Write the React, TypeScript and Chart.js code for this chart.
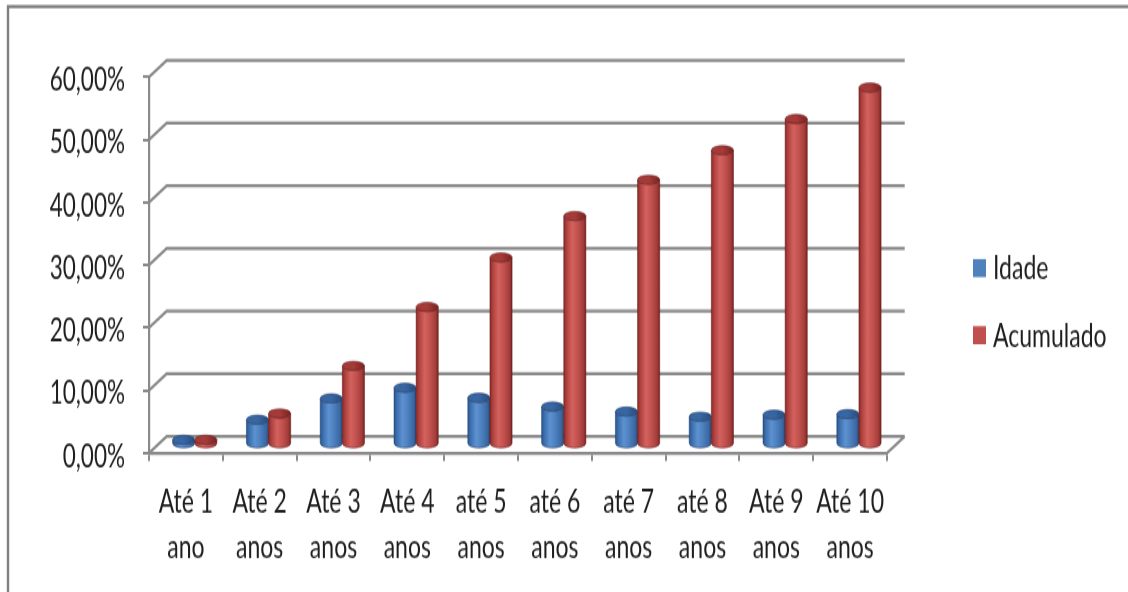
import { useEffect, useRef } from "react";
import { Chart, registerables } from "chart.js";

Chart.register(...registerables);

// Category labels (two lines each)
const categories: string[][] = [
  ["Até 1", "ano"],
  ["Até 2", "anos"],
  ["Até 3", "anos"],
  ["Até 4", "anos"],
  ["até 5", "anos"],
  ["até 6", "anos"],
  ["até 7", "anos"],
  ["até 8", "anos"],
  ["Até 9", "anos"],
  ["Até 10", "anos"],
];

// Series values, in percent
const idade = [0.8, 4.0, 7.4, 9.1, 7.5, 6.1, 5.3, 4.5, 4.8, 4.9];
const acumulado = [0.8, 5.0, 12.6, 22.0, 29.9, 36.5, 42.3, 47.0, 52.0, 57.0];

const seriesNames = ["Idade", "Acumulado"];
const seriesColors = ["#4F81BD", "#C0504D"];

// Value axis
const yMin = 0;
const yMax = 60;
const yStep = 10;

// The drawing surface is rendered shorter and displayed taller,
// which gives the tall, narrow lettering of the original sheet.
const VIEW_W = 1128;
const VIEW_H = 592;
const DRAW_H = 418;
const K = VIEW_H / DRAW_H;

const FONT = 'Lato, "Open Sans", "Liberation Sans", sans-serif';
const TEXT = "#1e1e1e";
const GRID = "#8a8a8a";

// depth of the 3-D box (back wall offset)
const DEPTH_X = 17.7;
const DEPTH_Y = 16.7 / K;

const shades: Record<string, { body: [number, string][]; top: string; edge: string }> = {
  "#4F81BD": {
    body: [
      [0, "#2a5590"],
      [0.12, "#3b6eac"],
      [0.38, "#5e91cf"],
      [0.62, "#4d80bf"],
      [0.88, "#3a68a2"],
      [1, "#284c80"],
    ],
    top: "#3866a3",
    edge: "rgba(30,60,100,0.5)",
  },
  "#C0504D": {
    body: [
      [0, "#8a2927"],
      [0.12, "#ad403d"],
      [0.38, "#d4625e"],
      [0.62, "#c2524f"],
      [0.88, "#a33d3a"],
      [1, "#7c2321"],
    ],
    top: "#a53b39",
    edge: "rgba(100,25,25,0.5)",
  },
};

const framePlugin = {
  id: "frame",
  beforeDraw(chart: any) {
    const ctx = chart.ctx as CanvasRenderingContext2D;
    ctx.save();
    ctx.fillStyle = "#ffffff";
    ctx.fillRect(0, 0, chart.width, chart.height);
    ctx.strokeStyle = "#7f7f7f";
    ctx.lineWidth = 2.4;
    ctx.beginPath();
    ctx.moveTo(6.8, 4.6);
    ctx.lineTo(chart.width, 4.6);
    ctx.moveTo(8, 3.4);
    ctx.lineTo(8, chart.height);
    ctx.stroke();
    ctx.restore();
  },
};

const wallsPlugin = {
  id: "walls3d",
  beforeDatasetsDraw(chart: any) {
    const ctx = chart.ctx as CanvasRenderingContext2D;
    const { left, right, bottom } = chart.chartArea;
    const y = chart.scales.y;
    ctx.save();
    ctx.strokeStyle = GRID;
    ctx.lineWidth = 2.2;
    ctx.lineCap = "butt";
    ctx.lineJoin = "miter";
    ctx.beginPath();
    for (const t of y.ticks) {
      const py = y.getPixelForValue(t.value);
      // side wall diagonal + back wall line
      ctx.moveTo(left, py);
      ctx.lineTo(left + DEPTH_X, py - DEPTH_Y);
      ctx.lineTo(right + DEPTH_X, py - DEPTH_Y);
    }
    // right edge of floor
    ctx.moveTo(right, bottom);
    ctx.lineTo(right + DEPTH_X, bottom - DEPTH_Y);
    ctx.stroke();
    ctx.restore();
  },
};

function drawCylinder(
  ctx: CanvasRenderingContext2D,
  cx: number,
  yTop: number,
  yBot: number,
  rx: number,
  ry: number,
  color: string
) {
  const s = shades[color];
  const g = ctx.createLinearGradient(cx - rx, 0, cx + rx, 0);
  for (const [o, c] of s.body) g.addColorStop(o, c);
  ctx.beginPath();
  ctx.moveTo(cx - rx, yTop);
  ctx.lineTo(cx - rx, yBot);
  ctx.ellipse(cx, yBot, rx, ry, 0, Math.PI, 0, true);
  ctx.lineTo(cx + rx, yTop);
  ctx.ellipse(cx, yTop, rx, ry, 0, 0, Math.PI, false);
  ctx.closePath();
  ctx.fillStyle = g;
  ctx.fill();
  ctx.strokeStyle = s.edge;
  ctx.lineWidth = 1;
  ctx.stroke();
  // top cap
  const tg = ctx.createLinearGradient(cx - rx, 0, cx + rx, 0);
  tg.addColorStop(0, s.top);
  tg.addColorStop(0.5, s.top);
  tg.addColorStop(1, s.body[5][1]);
  ctx.beginPath();
  ctx.ellipse(cx, yTop, rx, ry, 0, 0, Math.PI * 2);
  ctx.fillStyle = tg;
  ctx.fill();
  ctx.strokeStyle = s.edge;
  ctx.stroke();
}

const cylinderPlugin = {
  id: "cylinders",
  afterDatasetsDraw(chart: any) {
    const ctx = chart.ctx as CanvasRenderingContext2D;
    ctx.save();
    chart.data.datasets.forEach((ds: any, di: number) => {
      const meta = chart.getDatasetMeta(di);
      meta.data.forEach((el: any) => {
        const rx = el.width / 2;
        const cx = el.x + DEPTH_X / 2;
        const yTop = el.y - DEPTH_Y / 2;
        const yBot = el.base - DEPTH_Y / 2;
        drawCylinder(ctx, cx, yTop, yBot, rx, 3.2, ds.cylColor);
      });
    });
    ctx.restore();
  },
};

const legendPlugin = {
  id: "sideLegend",
  afterDraw(chart: any) {
    const ctx = chart.ctx as CanvasRenderingContext2D;
    ctx.save();
    ctx.font = `23px ${FONT}`;
    ctx.textBaseline = "middle";
    ctx.textAlign = "left";
    chart.data.datasets.forEach((ds: any, i: number) => {
      const cy = 189.2 + i * 47.4;
      ctx.fillStyle = ds.cylColor;
      ctx.fillRect(973, cy - 6.3, 13, 12.7);
      ctx.fillStyle = TEXT;
      ctx.fillText(ds.label, 993, cy + 0.5);
    });
    ctx.restore();
  },
};

export default function App() {
  const ref = useRef<HTMLCanvasElement | null>(null);

  useEffect(() => {
    document.body.style.margin = "0";
    const canvas = ref.current;
    if (!canvas) return;
    const chart = new Chart(canvas, {
      type: "bar",
      data: {
        labels: categories,
        datasets: [
          {
            label: seriesNames[0],
            data: idade,
            backgroundColor: "rgba(0,0,0,0)",
            borderWidth: 0,
            categoryPercentage: 0.6,
            barPercentage: 1,
            cylColor: seriesColors[0],
          } as any,
          {
            label: seriesNames[1],
            data: acumulado,
            backgroundColor: "rgba(0,0,0,0)",
            borderWidth: 0,
            categoryPercentage: 0.6,
            barPercentage: 1,
            cylColor: seriesColors[1],
          } as any,
        ],
      },
      options: {
        responsive: false,
        animation: false,
        events: [],
        layout: { padding: { left: 50, top: 54.4, right: 241, bottom: 15.8 } },
        plugins: {
          legend: { display: false },
          tooltip: { enabled: false },
        },
        scales: {
          x: {
            grid: {
              display: true,
              offset: true,
              drawOnChartArea: false,
              drawTicks: true,
              tickLength: 5.6,
              color: GRID,
              lineWidth: 2,
            },
            border: { display: true, color: GRID, width: 2.2 },
            ticks: {
              autoSkip: false,
              maxRotation: 0,
              minRotation: 0,
              padding: 13.1,
              color: TEXT,
              font: { family: FONT, size: 23, lineHeight: 1.383 },
            },
            afterFit(scale: any) {
              scale.height = 82.3;
            },
          },
          y: {
            min: yMin,
            max: yMax,
            grid: {
              display: true,
              drawOnChartArea: false,
              drawTicks: true,
              tickLength: 6,
              color: GRID,
              lineWidth: 2,
            },
            border: { display: true, color: GRID, width: 2.2 },
            ticks: {
              stepSize: yStep,
              padding: 18,
              labelOffset: 2.5,
              color: TEXT,
              font: { family: FONT, size: 22.5 },
              callback: (v: any) => Number(v).toFixed(2).replace(".", ",") + "%",
            },
            afterFit(scale: any) {
              scale.width = 99;
            },
          },
        },
      },
      plugins: [framePlugin, wallsPlugin, cylinderPlugin, legendPlugin],
    });
    return () => chart.destroy();
  }, []);

  return (
    <div style={{ position: "fixed", left: 0, top: 0, width: VIEW_W, height: VIEW_H, background: "#fff" }}>
      <canvas
        ref={ref}
        width={VIEW_W}
        height={DRAW_H}
        style={{ display: "block", width: VIEW_W, height: VIEW_H }}
      />
    </div>
  );
}
